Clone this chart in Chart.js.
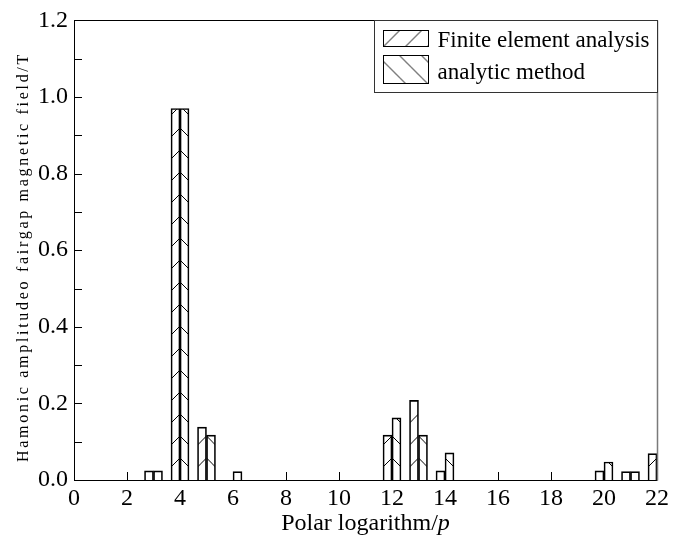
<!DOCTYPE html>
<html>
<head>
<meta charset="utf-8">
<title>Air-gap field harmonics</title>
<script src="https://cdn.jsdelivr.net/npm/chart.js@4/dist/chart.umd.min.js"></script>
<style>
  html, body { margin: 0; padding: 0; background: #fff; }
  #wrap { width: 673px; height: 542px; }
</style>
</head>
<body>
<div id="wrap"><canvas id="harmonicChart" width="673" height="542"></canvas></div>
<script>
// 谐波次数与两种方法的幅值
const poleOrders = [3, 4, 5, 6, 12, 13, 14, 20, 21, 22];
const feaValues = [0.024, 0.97, 0.138, null, 0.117, 0.208, 0.024, 0.024, 0.022, 0.069];
const analyticValues = [0.024, 0.97, 0.117, 0.022, 0.162, 0.117, 0.071, 0.047, 0.022, null];
const seriesLabels = ['Finite element analysis', 'analytic method'];
const yTitle = 'Hamonic amplitudeo fairgap magnetic field/T';
const xTitle = 'Polar logarithm/';
const xTitleVar = 'p';

const SERIF = "'Liberation Serif', 'DejaVu Serif', serif";
const HATCH = 22;

// 斜线填充小块: dir > 0 为 '/', 否则为 '\'
const makeTile = (dir) => {
  const c = document.createElement('canvas');
  c.width = c.height = HATCH;
  const g = c.getContext('2d');
  g.strokeStyle = '#000';
  g.lineWidth = 1;
  g.beginPath();
  for (const k of [-HATCH, 0, HATCH]) {
    if (dir > 0) { g.moveTo(k - 1, HATCH + 1); g.lineTo(k + HATCH + 1, -1); }
    else { g.moveTo(k - 1, -1); g.lineTo(k + HATCH + 1, HATCH + 1); }
  }
  g.stroke();
  return c;
};
const tileFwd = makeTile(1);
const tileBack = makeTile(-1);

// 每根柱子的填充以柱对中心和底边为原点, 两组斜线在中线相接
const barHatch = (tile) => (c) => {
  const pat = c.chart.ctx.createPattern(tile, 'repeat');
  if (c.type === 'data' && c.parsed) {
    const { x, y } = c.chart.scales;
    pat.setTransform(new DOMMatrix().translate(x.getPixelForValue(c.parsed.x), y.getPixelForValue(0)));
  }
  return pat;
};

// 边框, 内向刻度, 图例和坐标轴标题
const frameAndLegend = {
  id: 'frameAndLegend',
  afterDraw(chart) {
    const { ctx, chartArea: a, scales: { x, y } } = chart;
    ctx.save();
    ctx.strokeStyle = '#000';
    ctx.lineWidth = 1;
    ctx.beginPath();
    x.ticks.forEach((t, i) => {
      const px = Math.round(x.getPixelForTick(i)) + 0.5;
      ctx.moveTo(px, a.bottom); ctx.lineTo(px, a.bottom - 8);
    });
    y.ticks.forEach((t, i) => {
      const py = Math.round(y.getPixelForTick(i)) + 0.5;
      ctx.moveTo(a.left, py); ctx.lineTo(a.left + 8, py);
    });
    ctx.stroke();

    const L = Math.round(a.left) + 0.5, R = Math.round(a.right) + 0.5;
    const T = Math.round(a.top) + 0.5, B = Math.round(a.bottom) + 0.5;
    ctx.beginPath();
    ctx.moveTo(R, T); ctx.lineTo(L, T); ctx.lineTo(L, B); ctx.lineTo(R, B);
    ctx.stroke();
    ctx.strokeStyle = '#7a7a7a';
    ctx.lineWidth = 1.5;
    ctx.beginPath(); ctx.moveTo(R, T); ctx.lineTo(R, B); ctx.stroke();

    // 图例
    const lx = R - 283, ly = T, lw = 283, lh = 72;
    ctx.fillStyle = '#fff';
    ctx.fillRect(lx, ly, lw, lh);
    ctx.strokeStyle = '#333';
    ctx.lineWidth = 1;
    ctx.strokeRect(lx, ly, lw, lh);
    const swatches = [{ top: 10, h: 16, base: 26 }, { top: 35, h: 28, base: 58 }];
    const tiles = [tileFwd, tileBack];
    ctx.font = '23px ' + SERIF;
    ctx.textBaseline = 'alphabetic';
    ctx.textAlign = 'left';
    chart.data.datasets.forEach((ds, i) => {
      const s = swatches[i];
      const sx = lx + 9, sy = ly + s.top;
      const pat = ctx.createPattern(tiles[i], 'repeat');
      pat.setTransform(new DOMMatrix().translate(sx, sy + s.h));
      ctx.fillStyle = pat;
      ctx.fillRect(sx, sy, 45, s.h);
      ctx.strokeStyle = '#000';
      ctx.strokeRect(sx, sy, 45, s.h);
      ctx.fillStyle = '#000';
      ctx.fillText(ds.label, lx + 63, ly + s.base);
    });

    // x 轴标题, p 用斜体
    ctx.font = '24px ' + SERIF;
    const w1 = ctx.measureText(xTitle).width;
    ctx.font = 'italic 24px ' + SERIF;
    const w2 = ctx.measureText(xTitleVar).width;
    const sx = (a.left + a.right) / 2 - (w1 + w2) / 2;
    ctx.font = '24px ' + SERIF;
    ctx.fillText(xTitle, sx, 530);
    ctx.font = 'italic 24px ' + SERIF;
    ctx.fillText(xTitleVar, sx + w1, 530);

    // y 轴标题
    ctx.translate(28, 257);
    ctx.rotate(-Math.PI / 2);
    ctx.font = '16px ' + SERIF;
    ctx.letterSpacing = '2.7px';
    ctx.textAlign = 'center';
    ctx.fillText(yTitle, 0, 0);
    ctx.restore();
  }
};

new Chart(document.getElementById('harmonicChart'), {
  type: 'bar',
  data: {
    datasets: [{
      label: seriesLabels[0],
      data: poleOrders.map((p, i) => ({ x: p, y: feaValues[i] })),
      backgroundColor: barHatch(tileFwd),
      borderColor: '#000',
      borderWidth: 1
    }, {
      label: seriesLabels[1],
      data: poleOrders.map((p, i) => ({ x: p, y: analyticValues[i] })),
      backgroundColor: barHatch(tileBack),
      borderColor: '#000',
      borderWidth: 1
    }]
  },
  options: {
    responsive: false,
    animation: false,
    layout: { padding: { top: 17, right: 15, left: 0, bottom: 0 } },
    datasets: { bar: { barThickness: 9, grouped: true } },
    plugins: {
      legend: { display: false },
      tooltip: { enabled: false }
    },
    scales: {
      x: {
        type: 'linear', min: 0, max: 22, offset: false,
        grid: { display: false, drawTicks: false, offset: false },
        border: { display: false },
        ticks: { stepSize: 2, padding: 4, autoSkip: false, maxRotation: 0, color: '#000', font: { family: SERIF, size: 24 } },
        afterFit: (s) => { s.height = 62; }
      },
      y: {
        min: 0, max: 1.2,
        grid: { display: false, drawTicks: false },
        border: { display: false },
        ticks: {
          stepSize: 0.1, padding: 6, autoSkip: false, color: '#000',
          font: { family: SERIF, size: 24 },
          callback: (v, i) => (i % 2 ? '' : v.toFixed(1))
        },
        afterFit: (s) => { s.width = 74; }
      }
    }
  },
  plugins: [frameAndLegend]
});
</script>
</body>
</html>
